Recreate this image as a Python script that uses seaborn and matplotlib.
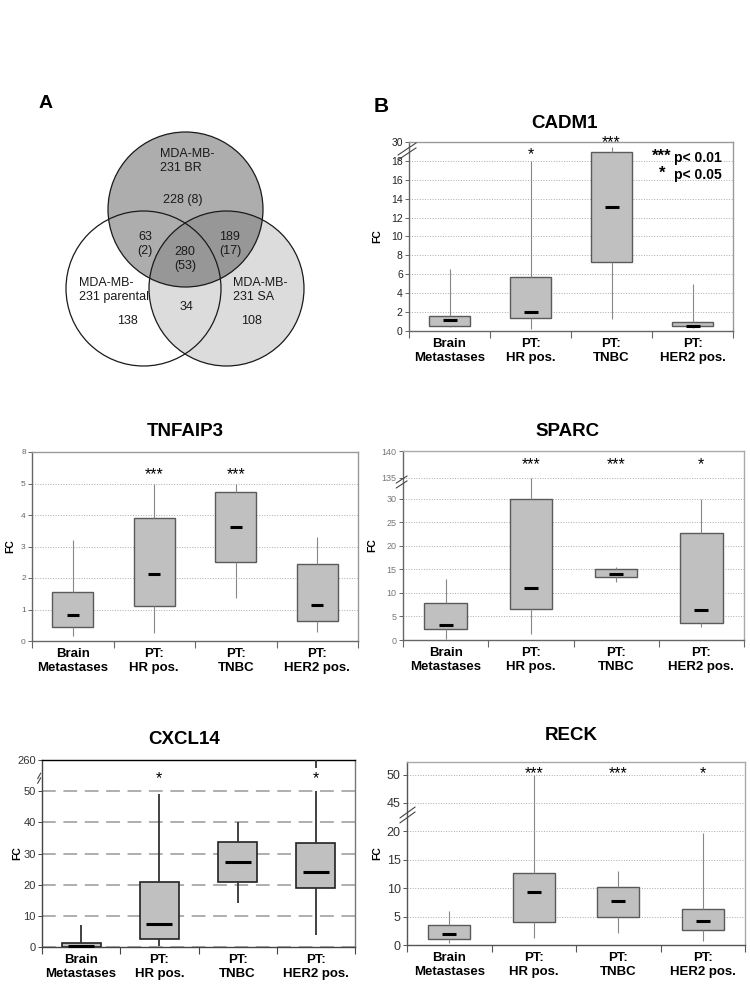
import numpy as np
import pandas as pd
import matplotlib
matplotlib.use('Agg')
import matplotlib.pyplot as plt
import seaborn as sns
from matplotlib.patches import Circle

sns.set_theme(style='ticks')
plt.rcParams['font.family'] = ['Liberation Sans', 'DejaVu Sans']
plt.rcParams.update({'text.color': 'black', 'axes.labelcolor': 'black',
                     'xtick.color': 'black', 'ytick.color': 'black'})

W, H = 750, 1000

GROUPS = ['Brain\nMetastases', 'PT:\nHR pos.', 'PT:\nTNBC', 'PT:\nHER2 pos.']

# five-number summaries per group: min, q1, median, q3, max
CADM1 = [[0.45, 0.53, 1.15, 1.63, 6.55],
         [0.25, 1.38, 2.05, 5.72, 18.0],
         [1.27, 7.35, 13.15, 23.4, 26.7],
         [0.35, 0.50, 0.57, 0.99, 4.95]]
TNFAIP3 = [[0.15, 0.45, 0.82, 1.57, 3.2],
           [0.25, 1.10, 2.13, 3.90, 5.0],
           [1.38, 2.52, 3.62, 4.72, 5.0],
           [0.27, 0.62, 1.13, 2.46, 3.3]]
SPARC = [[0.2, 2.4, 3.1, 7.8, 13.0],
         [1.2, 6.7, 11.1, 30.0, 135.0],
         [12.4, 13.5, 14.1, 15.0, 15.6],
         [2.8, 3.6, 6.3, 22.8, 30.0]]
CXCL14 = [[0.0, 0.1, 0.4, 1.2, 7.2],
          [0.2, 2.6, 7.5, 20.7, 49.0],
          [14.0, 21.0, 27.3, 33.7, 40.0],
          [3.8, 19.0, 24.0, 33.5, 51.0]]
RECK = [[0.3, 1.1, 1.9, 3.6, 5.9],
        [1.3, 4.0, 9.4, 12.7, 50.0],
        [2.1, 5.0, 7.7, 10.2, 13.1],
        [0.7, 2.6, 4.2, 6.4, 19.7]]
CXCL14_OUTLIER = ['PT:\nHER2 pos.', 235.0]

CADM1_STARS = ['', '*', '***', '']
TNFAIP3_STARS = ['', '***', '***', '']
SPARC_STARS = ['', '***', '***', '*']
CXCL14_STARS = ['', '*', '', '*']
RECK_STARS = ['', '***', '***', '*']

# Venn diagram (panel A)
VENN_SETS = ['MDA-MB-\n231 BR', 'MDA-MB-\n231 parental', 'MDA-MB-\n231 SA']
VENN_ONLY = ['228 (8)', '138', '108']
VENN_PAIRS = ['63\n(2)', '189\n(17)', '34']   # BR&par, BR&SA, par&SA
VENN_ALL = '280\n(53)'

BOX_FILL = '#c0c0c0'


def rect(l, t, r, b):
    return [l / W, 1 - b / H, (r - l) / W, (b - t) / H]


def piecewise(xp, fp):
    xp = np.asarray(xp, float)
    fp = np.asarray(fp, float)

    def f(v):
        v = np.asarray(v, float)
        out = np.interp(v, xp, fp)
        lo_slope = (fp[1] - fp[0]) / (xp[1] - xp[0])
        hi_slope = (fp[-1] - fp[-2]) / (xp[-1] - xp[-2])
        out = np.where(v < xp[0], fp[0] + (v - xp[0]) * lo_slope, out)
        out = np.where(v > xp[-1], fp[-1] + (v - xp[-1]) * hi_slope, out)
        return out
    return f


fig = plt.figure(figsize=(7.5, 10), dpi=100)


def box_panel(box, title, title_xy, stats, stars, star_y, brk, ticks, ylim,
              edge='#5a5a5a', lw=1.0, wcol='#888888', wlw=0.8, med_s=100,
              tick_size=7, tick_color='#222222', frame='#999999',
              axis_col='#666666', grid_ls=':', grid_col='#aaaaaa', grid_lw=0.7,
              fc_x=-0.08, breakmark=None):
    ax = fig.add_axes(rect(*box))
    df = pd.DataFrame([(g, v) for g, row in zip(GROUPS, stats) for v in row],
                      columns=['group', 'FC'])
    sns.boxplot(data=df, x='group', y='FC', order=GROUPS, ax=ax, whis=(0, 100),
                width=0.5, color=BOX_FILL, saturation=1, linecolor=edge,
                linewidth=lw, showcaps=False,
                medianprops={'visible': False},
                whiskerprops={'color': wcol, 'linewidth': wlw})
    medians = [row[2] for row in stats]
    sns.scatterplot(x=GROUPS, y=medians, marker='_', s=med_s, color='black',
                    linewidth=2.2, ax=ax, zorder=5, legend=False)

    fwd, inv = piecewise(*brk), piecewise(brk[1], brk[0])
    ax.set_yscale('function', functions=(fwd, inv))
    ax.set_ylim(*ylim)
    ax.set_xlim(-0.5, 3.5)
    ax.set_yticks(ticks)
    ax.set_yticklabels([str(t) for t in ticks])
    ax.set_yticks([], minor=True)

    ax.set_axisbelow(True)
    ax.yaxis.grid(True, linestyle=grid_ls, color=grid_col, linewidth=grid_lw)
    ax.xaxis.grid(False)

    ax.set_xticks(np.arange(-0.5, 4, 1), minor=True)
    ax.tick_params(axis='x', which='major', length=0, pad=5, labelsize=9.5,
                   labelcolor='black')
    ax.tick_params(axis='x', which='minor', length=5, width=0.8, color=axis_col)
    for lab in ax.get_xticklabels():
        lab.set_fontweight('bold')
        lab.set_linespacing(1.25)
    ax.tick_params(axis='y', length=3, width=0.7, color=axis_col, pad=1.5,
                   labelsize=tick_size, labelcolor=tick_color)

    for side in ['top', 'right']:
        ax.spines[side].set_visible(True)
        ax.spines[side].set_color(frame)
        ax.spines[side].set_linewidth(1.0)
    for side in ['left', 'bottom']:
        ax.spines[side].set_color(axis_col)
        ax.spines[side].set_linewidth(1.0)

    ax.set_xlabel('')
    ax.set_ylabel('FC', fontsize=7.5, fontweight='bold', color='black')
    ax.yaxis.set_label_coords(fc_x, 0.5)

    for i, (s, y) in enumerate(zip(stars, star_y)):
        if s:
            ax.annotate(s, xy=(i, y), xycoords=ax.get_xaxis_transform(),
                        xytext=(0, -7), textcoords='offset points',
                        ha='center', va='baseline', fontsize=11.5,
                        annotation_clip=False)

    if breakmark is not None:
        (x0, x1), ys = breakmark
        for y0, y1 in ys:
            ax.plot([x0, x1], [y0, y1], transform=ax.transAxes, color='#444444',
                    lw=0.8, clip_on=False, zorder=6)

    fig.text(title_xy[0] / W, 1 - title_xy[1] / H, title, ha='center',
             va='center', fontsize=13.5, fontweight='bold')
    return ax


# ---- panel A: Venn
axv = fig.add_axes(rect(50, 110, 330, 390))
axv.set_xlim(50, 330)
axv.set_ylim(390, 110)
axv.set_aspect('equal')
axv.axis('off')
centers = {'BR': (185.5, 209.5), 'par': (143.5, 288.5), 'SA': (226.5, 288.5)}
R = 77.5
axv.add_patch(Circle(centers['SA'], R, facecolor='#dcdcdc', edgecolor='none'))
axv.add_patch(Circle(centers['BR'], R, facecolor='#1e1e1e', alpha=0.36,
                     edgecolor='none'))
for c in centers.values():
    axv.add_patch(Circle(c, R, facecolor='none', edgecolor='#1a1a1a', lw=0.9))

vkw = dict(fontsize=9, color='#1a1a1a', linespacing=1.3)
axv.text(160, 161, VENN_SETS[0], ha='left', va='center', **vkw)
axv.text(79, 290, VENN_SETS[1], ha='left', va='center', **vkw)
axv.text(233, 290, VENN_SETS[2], ha='left', va='center', **vkw)
axv.text(183, 200, VENN_ONLY[0], ha='center', va='center', **vkw)
axv.text(127, 321, VENN_ONLY[1], ha='center', va='center', **vkw)
axv.text(252, 321, VENN_ONLY[2], ha='center', va='center', **vkw)
axv.text(145, 244, VENN_PAIRS[0], ha='center', va='center', **vkw)
axv.text(230, 244, VENN_PAIRS[1], ha='center', va='center', **vkw)
axv.text(187, 307, VENN_PAIRS[2], ha='center', va='center', **vkw)
axv.text(185, 259, VENN_ALL, ha='center', va='center', **vkw)

fig.text(46 / W, 1 - 103 / H, 'A', ha='center', va='center', fontsize=14,
         fontweight='bold')
fig.text(381 / W, 1 - 107 / H, 'B', ha='center', va='center', fontsize=15,
         fontweight='bold')

# ---- panel B: box plots
ax1 = box_panel((409, 142, 733, 331), 'CADM1', (565, 123), CADM1, CADM1_STARS,
                [0, 0.963, 1.025, 0], ([0, 18, 30], [0, 18, 20]),
                [0, 2, 4, 6, 8, 10, 12, 14, 16, 18, 30], (0, 30),
                med_s=110, tick_size=7.5, fc_x=-0.083,
                breakmark=((-0.034, 0.022), [(0.931, 0.995), (0.905, 0.969)]))
ax1.text(0.809, 0.925, '***', transform=ax1.transAxes, ha='right', va='center',
         fontsize=12, fontweight='bold')
ax1.text(0.818, 0.915, 'p< 0.01', transform=ax1.transAxes, ha='left',
         va='center', fontsize=10, fontweight='bold')
ax1.text(0.79, 0.835, '*', transform=ax1.transAxes, ha='right', va='center',
         fontsize=12, fontweight='bold')
ax1.text(0.818, 0.825, 'p< 0.05', transform=ax1.transAxes, ha='left',
         va='center', fontsize=10, fontweight='bold')

box_panel((32, 452, 358, 641), 'TNFAIP3', (185, 432), TNFAIP3, TNFAIP3_STARS,
          [0.91] * 4, ([0, 5, 8], [0, 5, 6]), [0, 1, 2, 3, 4, 5, 8], (0, 8),
          med_s=70, tick_size=6, tick_color='#666666', fc_x=-0.052)

box_panel((403, 451, 744, 640), 'SPARC', (568, 432), SPARC, SPARC_STARS,
          [0.955] * 4, ([0, 30, 135, 140], [0, 30, 34.5, 40.2]),
          [0, 5, 10, 15, 20, 25, 30, 135, 140], (0, 140),
          med_s=90, tick_size=6.5, tick_color='#777777', frame='#aaaaaa',
          fc_x=-0.076,
          breakmark=((-0.02, 0.012), [(0.83, 0.868), (0.804, 0.842)]))

ax4 = box_panel((42, 760, 355, 947), 'CXCL14', (184, 739), CXCL14, CXCL14_STARS,
                [0.93] * 4, ([0, 50, 260], [0, 50, 60]),
                [0, 10, 20, 30, 40, 50, 260], (0, 260),
                edge='#222222', lw=1.2, wcol='#333333', wlw=1.3, med_s=330,
                tick_size=8, tick_color='#333333', frame='#777777',
                axis_col='#444444', grid_ls=(0, (9, 5)), grid_col='#999999',
                grid_lw=1.1, fc_x=-0.064,
                breakmark=((-0.014, -0.004), [(0.875, 0.905), (0.9, 0.93)]))
ax4.spines['top'].set_color('black')
sns.scatterplot(x=[CXCL14_OUTLIER[0]], y=[CXCL14_OUTLIER[1]], marker='|', s=30,
                color='#333333', linewidth=1.3, ax=ax4, legend=False, zorder=4)

box_panel((407, 762, 745, 945), 'RECK', (571, 736), RECK, RECK_STARS,
          [0.966] * 4, ([0, 20, 45, 50], [0, 20, 25, 30]),
          [0, 5, 10, 15, 20, 45, 50], (0, 52.2),
          med_s=100, tick_size=9, tick_color='#333333', frame='#aaaaaa',
          axis_col='#555555', fc_x=-0.074,
          breakmark=((-0.021, 0.024), [(0.694, 0.754), (0.667, 0.727)]))

fig.savefig('out.png', dpi=100)
